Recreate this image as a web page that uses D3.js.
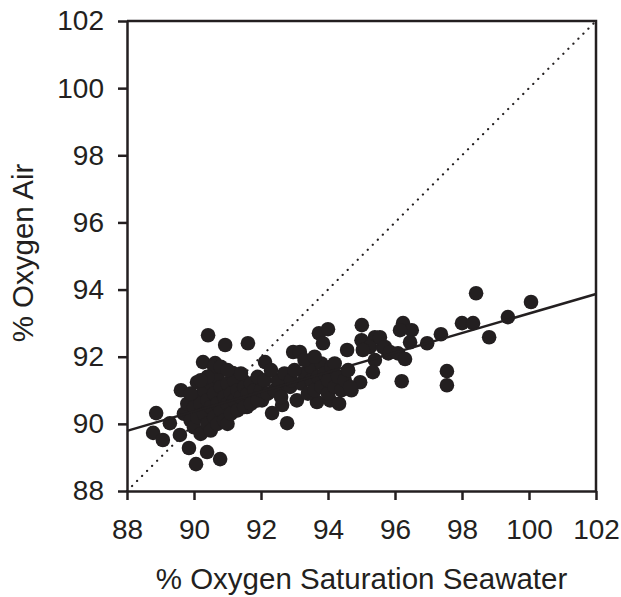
<!DOCTYPE html>
<html>
<head>
<meta charset="utf-8">
<script src="https://cdn.jsdelivr.net/npm/d3@7"></script>
<style>
  body { margin: 0; background: #fff; }
  text { font-family: "Liberation Sans", Arial, sans-serif; fill: #231f20; }
</style>
</head>
<body>
<div id="chart"></div>
<script>
// x = % oxygen saturation seawater, y = % oxygen air
var xVals = [
  // low outliers / edge points
  88.87, 88.78, 89.07, 89.28, 89.58, 89.61, 89.85, 90.06, 90.39, 90.78, 90.09, 90.27, 90.63,
  90.42, 90.93, 91.61, 92.12, 91.46, 92.78, 92.57, 92.33, 92.63, 92.87, 91.58, 92.03, 91.16,
  // main cluster
  89.7, 89.8, 89.9, 90.0, 90.0, 90.1, 90.1, 90.2, 90.2, 90.3, 90.3, 90.4, 90.4, 90.5, 90.5, 90.5,
  90.6, 90.6, 90.7, 90.7, 90.7, 90.8, 90.8, 90.9, 90.9, 91.0, 91.0, 91.0, 91.1, 91.1, 91.2, 91.2,
  91.3, 91.3, 91.4, 91.4, 91.5, 91.5, 91.6, 91.7, 91.7, 91.8, 91.9, 91.9, 92.0, 92.1, 92.2,
  90.6, 90.8, 91.0, 90.4, 89.9, 90.2,
  // between clusters
  92.4, 92.5, 92.6, 92.7, 92.3, 92.96, 93.16, 93.07, 93.67, 94.06, 94.33,
  // second cluster
  93.2, 93.3, 93.4, 93.5, 93.5, 93.6, 93.7, 93.8, 93.8, 93.9, 94.0, 94.0, 94.1, 94.2, 94.3, 94.4,
  93.3, 93.6, 94.2, 94.5, 92.9, 93.0, 94.7, 94.6,
  // upper part
  93.73, 94.0, 93.85, 94.57, 95.01, 95.0, 95.4, 95.25, 95.04, 95.64, 95.8, 95.4, 95.34, 94.96, 94.66,
  95.55, 95.7, 95.85, 96.09, 96.3, 96.2, 96.24, 96.5, 96.15, 96.45, 96.96, 97.37, 97.55, 97.55,
  98.0, 98.33, 98.42, 98.81, 99.37, 100.06
];
var yVals = [
  90.32, 89.73, 89.52, 90.02, 89.67, 91.0, 89.28, 88.8, 89.16, 88.95, 91.24, 91.84, 91.81,
  92.64, 92.35, 92.40, 91.84, 91.30, 90.02, 91.15, 90.32, 90.56, 91.1, 90.5, 90.7, 91.51,
  90.3, 90.6, 90.1, 90.5, 89.9, 90.8, 90.2, 90.6, 89.7, 91.0, 90.3, 90.7, 90.0, 91.2, 90.5, 89.8,
  90.9, 90.2, 91.4, 90.6, 90.0, 91.1, 90.4, 90.8, 90.1, 91.2, 90.6, 90.0, 90.9, 90.3, 91.3, 90.7,
  91.0, 90.4, 90.8, 91.5, 91.1, 90.5, 90.9, 91.2, 90.6, 91.0, 90.7, 91.4, 91.0, 91.3, 90.9,
  91.7, 91.7, 91.6, 91.4, 90.9, 91.3,
  91.0, 91.3, 90.8, 91.5, 91.6, 92.14, 92.14, 90.7, 90.65, 90.7, 90.6,
  91.2, 91.5, 90.9, 91.3, 91.7, 91.0, 91.4, 91.8, 91.1, 91.5, 90.9, 91.3, 91.7, 91.1, 91.4, 91.0,
  91.9, 92.0, 91.8, 91.3, 91.3, 91.6, 91.0, 91.6,
  92.70, 92.82, 92.40, 92.2, 92.94, 92.49, 92.58, 92.29, 92.2, 92.29, 92.1, 91.9, 91.54, 91.24, 91.1,
  92.58, 92.29, 92.14, 92.1, 91.93, 91.27, 93.0, 92.79, 92.79, 92.43, 92.4, 92.67, 91.57, 91.15,
  93.0, 93.0, 93.89, 92.58, 93.18, 93.63
];
var ticks = [88, 90, 92, 94, 96, 98, 100, 102];
var fitLine = [[88, 89.79], [102, 93.87]];
var unityLine = [[88, 88], [102, 102]];

var points = xVals.map(function(d, i) { return {x: d, y: yVals[i]}; });

var margin = {top: 21, right: 25, bottom: 106, left: 127},
    width = 621 - margin.left - margin.right,
    height = 597 - margin.top - margin.bottom;

var svg = d3.select("#chart")
  .append("svg")
    .attr("width", 621)
    .attr("height", 597)
  .append("g")
    .attr("transform", "translate(" + margin.left + "," + margin.top + ")");

var x = d3.scaleLinear().domain([88, 102]).range([0, width]);
var y = d3.scaleLinear().domain([88, 102]).range([height, 0]);

var ink = "#231f20";

// frame top + right
svg.append("path")
  .attr("d", "M0,0H" + width + "V" + height)
  .attr("fill", "none").attr("stroke", ink).attr("stroke-width", 2.5);

// 1:1 dotted line
var line = d3.line().x(function(d) { return x(d[0]); }).y(function(d) { return y(d[1]); });
svg.append("path")
  .datum(unityLine)
  .attr("d", line)
  .attr("fill", "none")
  .attr("stroke", ink)
  .attr("stroke-width", 2.2)
  .attr("stroke-linecap", "round")
  .attr("stroke-dasharray", "0.1,7");

// points
svg.selectAll("circle")
  .data(points)
  .enter().append("circle")
    .attr("cx", function(d) { return x(d.x); })
    .attr("cy", function(d) { return y(d.y); })
    .attr("r", 7.3)
    .attr("fill", ink);

// regression line
svg.append("path")
  .datum(fitLine)
  .attr("d", line)
  .attr("fill", "none")
  .attr("stroke", ink)
  .attr("stroke-width", 2.5);

// axes
var xAxis = svg.append("g")
  .attr("transform", "translate(0," + height + ")")
  .call(d3.axisBottom(x).tickValues(ticks).tickSize(9).tickPadding(19).tickSizeOuter(0));
var yAxis = svg.append("g")
  .call(d3.axisLeft(y).tickValues(ticks).tickSize(9).tickPadding(14).tickSizeOuter(0));

[xAxis, yAxis].forEach(function(a) {
  a.select(".domain").attr("stroke", ink).attr("stroke-width", 2.5);
  a.selectAll("line").attr("stroke", ink).attr("stroke-width", 2.5);
  a.selectAll("text").style("font-size", "28px").attr("fill", ink)
    .style("font-family", "'Liberation Sans', Arial, sans-serif");
});

// axis titles
svg.append("text")
  .attr("x", width / 2)
  .attr("y", height + 98)
  .attr("text-anchor", "middle")
  .style("font-size", "29.5px")
  .text("% Oxygen Saturation Seawater");

svg.append("text")
  .attr("transform", "rotate(-90)")
  .attr("x", -232)
  .attr("y", -94)
  .attr("text-anchor", "middle")
  .style("font-size", "29.5px")
  .text("% Oxygen Air");
</script>
</body>
</html>
